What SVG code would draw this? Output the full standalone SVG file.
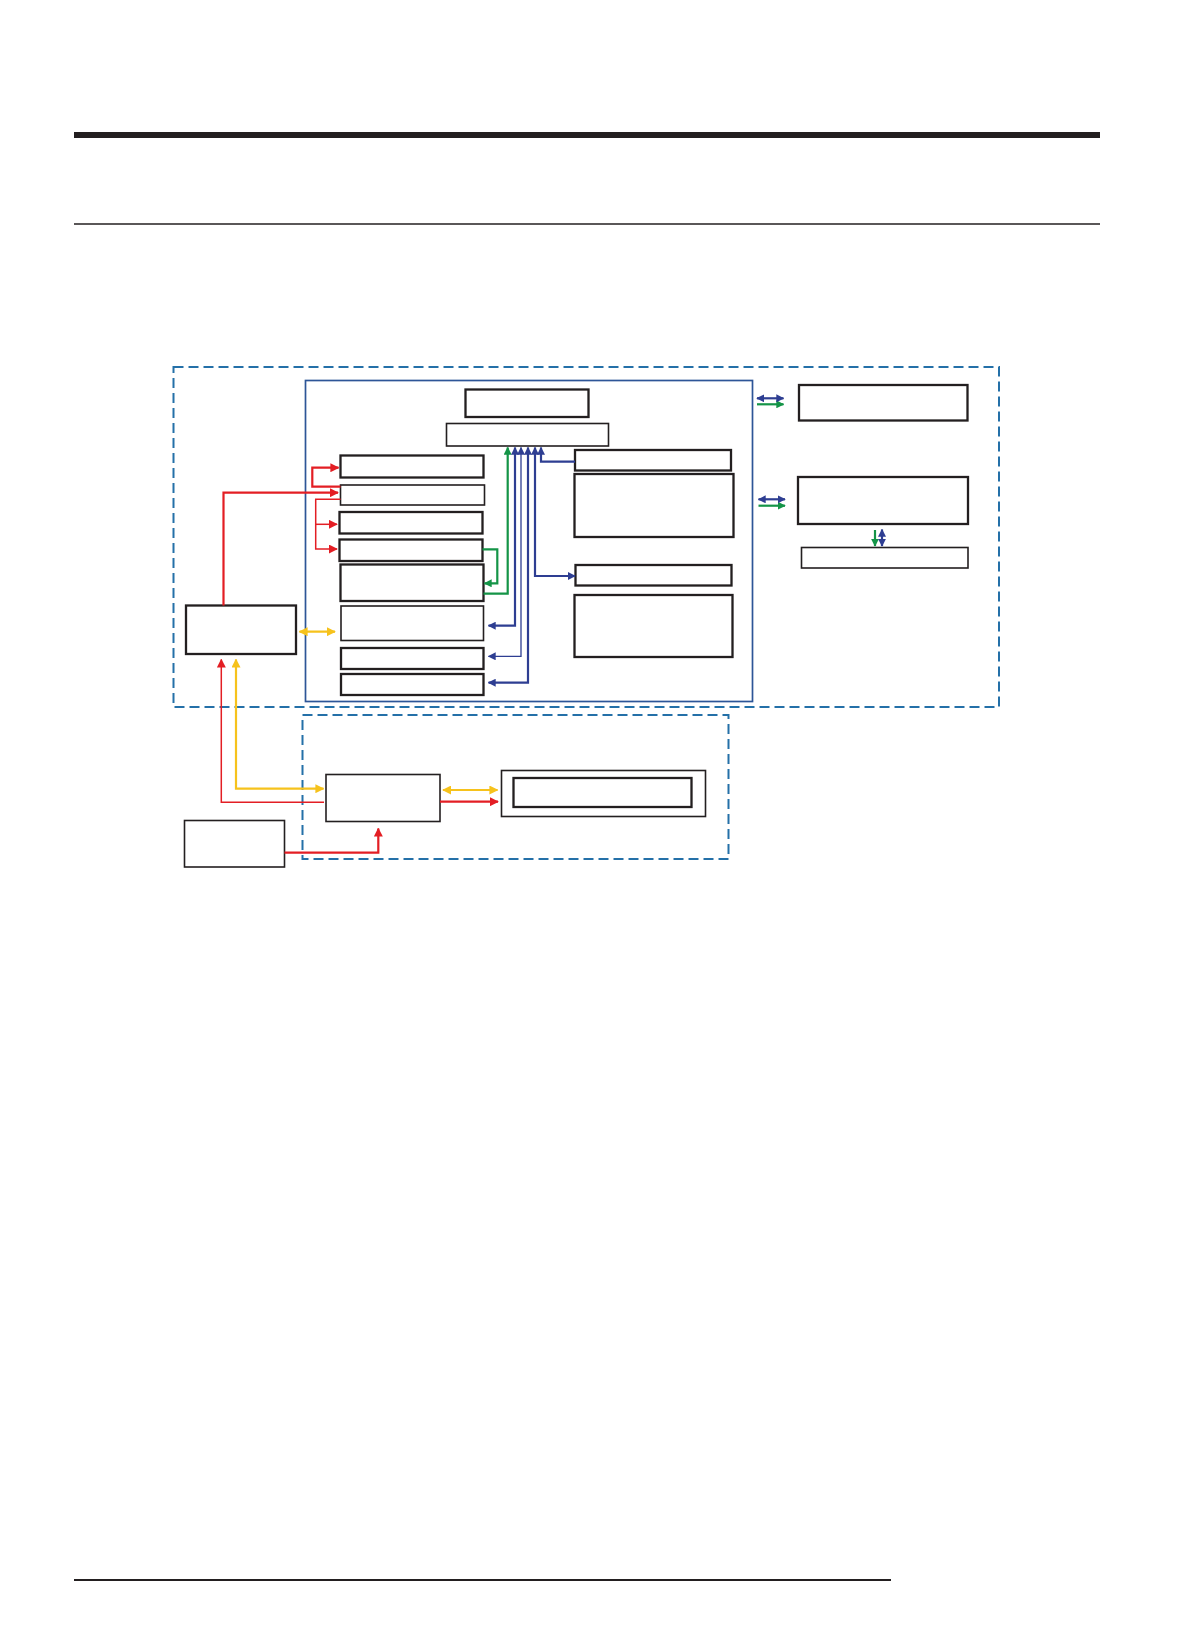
<svg xmlns="http://www.w3.org/2000/svg" width="1191" height="1644" viewBox="0 0 1191 1644">
<style>
.bx{fill:#fff;stroke:#231f20;stroke-width:2.3}
.bt{fill:#fff;stroke:#231f20;stroke-width:1.6}
.dash{fill:none;stroke:#2470a8;stroke-width:2;stroke-dasharray:10 5}
.r{fill:none;stroke:#e31e24;stroke-width:2.2}
.rt{fill:none;stroke:#e31e24;stroke-width:1.5}
.y{fill:none;stroke:#f6c21c;stroke-width:2.2}
.g{fill:none;stroke:#149447;stroke-width:2.2}
.b{fill:none;stroke:#2e3e92;stroke-width:2.2}
.btn{fill:none;stroke:#2e3e92;stroke-width:1.3}
</style>
<defs>
<marker id="ar" viewBox="0 0 10 10" refX="9" refY="5" markerWidth="9" markerHeight="9" markerUnits="userSpaceOnUse" orient="auto-start-reverse"><path d="M0,0 L10,5 L0,10 Z" fill="#e31e24"/></marker>
<marker id="ay" viewBox="0 0 10 10" refX="9" refY="5" markerWidth="9" markerHeight="9" markerUnits="userSpaceOnUse" orient="auto-start-reverse"><path d="M0,0 L10,5 L0,10 Z" fill="#f6c21c"/></marker>
<marker id="ag" viewBox="0 0 10 10" refX="9" refY="5" markerWidth="8" markerHeight="8" markerUnits="userSpaceOnUse" orient="auto-start-reverse"><path d="M0,0 L10,5 L0,10 Z" fill="#149447"/></marker>
<marker id="ab" viewBox="0 0 10 10" refX="9" refY="5" markerWidth="8" markerHeight="8" markerUnits="userSpaceOnUse" orient="auto-start-reverse"><path d="M0,0 L10,5 L0,10 Z" fill="#2e3e92"/></marker>
</defs>
<rect width="1191" height="1644" fill="#fff"/>
<g id="page-rules">
<rect x="74" y="132" width="1026" height="6" fill="#231f20"/>
<line x1="74" y1="224" x2="1100" y2="224" stroke="#231f20" stroke-width="1.3"/>
<line x1="74" y1="1580" x2="891" y2="1580" stroke="#231f20" stroke-width="1.8"/>
</g>
<g id="containers">
<rect id="outer-dashed" class="dash" x="173.5" y="367" width="825.5" height="340"/>
<rect id="inner-solid" x="305.5" y="380.5" width="447" height="321" fill="none" stroke="#2d5597" stroke-width="1.7"/>
<rect id="lower-dashed" class="dash" x="302.5" y="715" width="426" height="144"/>
</g>
<g id="nodes">
<g id="nA"><rect class="bx" x="465.5" y="389.5" width="123" height="27.5"/></g>
<g id="nB"><rect class="bt" x="446.5" y="423.5" width="162" height="22.5"/></g>
<g id="nL1"><rect class="bx" x="340.5" y="455.5" width="143" height="22"/></g>
<g id="nL2"><rect class="bt" x="340.5" y="485" width="144" height="20"/></g>
<g id="nL3"><rect class="bx" x="339.5" y="512" width="143" height="21.5"/></g>
<g id="nL4"><rect class="bx" x="339.5" y="539.5" width="143" height="21.5"/></g>
<g id="nL5"><rect class="bx" x="340.5" y="564.5" width="143" height="36.5"/></g>
<g id="nL6"><rect class="bt" x="341" y="606" width="142.5" height="34.5"/></g>
<g id="nL7"><rect class="bx" x="341" y="648" width="142.5" height="21"/></g>
<g id="nL8"><rect class="bx" x="341" y="674" width="142.5" height="21"/></g>
<g id="nR1"><rect class="bx" x="575" y="450" width="156" height="20.5"/></g>
<g id="nR2"><rect class="bx" x="574.5" y="474" width="159" height="63"/></g>
<g id="nR3"><rect class="bx" x="575.5" y="565" width="156" height="20.5"/></g>
<g id="nR4"><rect class="bx" x="574.5" y="595" width="158" height="62"/></g>
<g id="nF1"><rect class="bx" x="799" y="385" width="168.5" height="35.5"/></g>
<g id="nF2"><rect class="bx" x="798" y="477" width="170" height="47"/></g>
<g id="nF3"><rect class="bt" x="801.5" y="547.5" width="166.5" height="20.5"/></g>
<g id="nP"><rect class="bx" x="186" y="605.5" width="110" height="48.5"/></g>
<g id="nM"><rect class="bt" x="326" y="774.5" width="114" height="47"/></g>
<g id="nS"><rect class="bt" x="184.5" y="820.5" width="100" height="46.5"/></g>
<g id="nD"><rect class="bt" x="501.5" y="770.5" width="204" height="46"/><rect class="bx" x="513.5" y="778" width="178" height="29"/></g>
</g>
<g id="connectors">
<polyline class="r" points="223.5,605.5 223.5,492.7 338,492.7" marker-end="url(#ar)"/>
<polyline class="r" points="340.5,486.7 312.3,486.7 312.3,467.7 338.5,467.7" marker-end="url(#ar)"/>
<polyline class="rt" points="340.5,499.3 315.7,499.3 315.7,549 337,549" marker-end="url(#ar)"/>
<line class="rt" x1="315.7" y1="524.3" x2="337" y2="524.3" marker-end="url(#ar)"/>
<polyline class="rt" points="324,802.3 221.3,802.3 221.3,659.5" marker-end="url(#ar)"/>
<line class="r" x1="440" y1="801.7" x2="498" y2="801.7" marker-end="url(#ar)"/>
<polyline class="r" points="284.5,852.7 378.3,852.7 378.3,828.5" marker-end="url(#ar)"/>
<line class="y" x1="299.5" y1="631.7" x2="335" y2="631.7" marker-start="url(#ay)" marker-end="url(#ay)"/>
<polyline class="y" points="236,659.5 236,788.7 323.5,788.7" marker-start="url(#ay)" marker-end="url(#ay)"/>
<line class="y" x1="443" y1="790" x2="497.5" y2="790" marker-start="url(#ay)" marker-end="url(#ay)"/>
<polyline class="g" points="482.5,549.3 497.3,549.3 497.3,583.3 484.5,583.3" marker-end="url(#ag)"/>
<polyline class="g" points="483.5,593.7 507.7,593.7 507.7,447.5" marker-end="url(#ag)"/>
<line class="g" x1="757" y1="404.3" x2="783.5" y2="404.3" marker-end="url(#ag)"/>
<line class="g" x1="758.5" y1="505.7" x2="785" y2="505.7" marker-end="url(#ag)"/>
<line class="g" x1="875" y1="530" x2="875" y2="546" marker-end="url(#ag)"/>
<polyline class="b" points="488.5,625.7 515,625.7 515,447.5" marker-start="url(#ab)" marker-end="url(#ab)"/>
<polyline class="btn" points="488.5,656.3 521,656.3 521,447.5" marker-start="url(#ab)" marker-end="url(#ab)"/>
<polyline class="b" points="488.5,682.7 528,682.7 528,447.5" marker-start="url(#ab)" marker-end="url(#ab)"/>
<polyline class="b" points="575,576 535,576 535,447.5" marker-start="url(#ab)" marker-end="url(#ab)"/>
<polyline class="b" points="575,461.7 541,461.7 541,447.5" marker-end="url(#ab)"/>
<line class="b" x1="757" y1="398.3" x2="783.5" y2="398.3" marker-start="url(#ab)" marker-end="url(#ab)"/>
<line class="b" x1="758.5" y1="499.3" x2="785" y2="499.3" marker-start="url(#ab)" marker-end="url(#ab)"/>
<line class="b" x1="882" y1="529.5" x2="882" y2="546" marker-start="url(#ab)" marker-end="url(#ab)"/>
</g>
</svg>
